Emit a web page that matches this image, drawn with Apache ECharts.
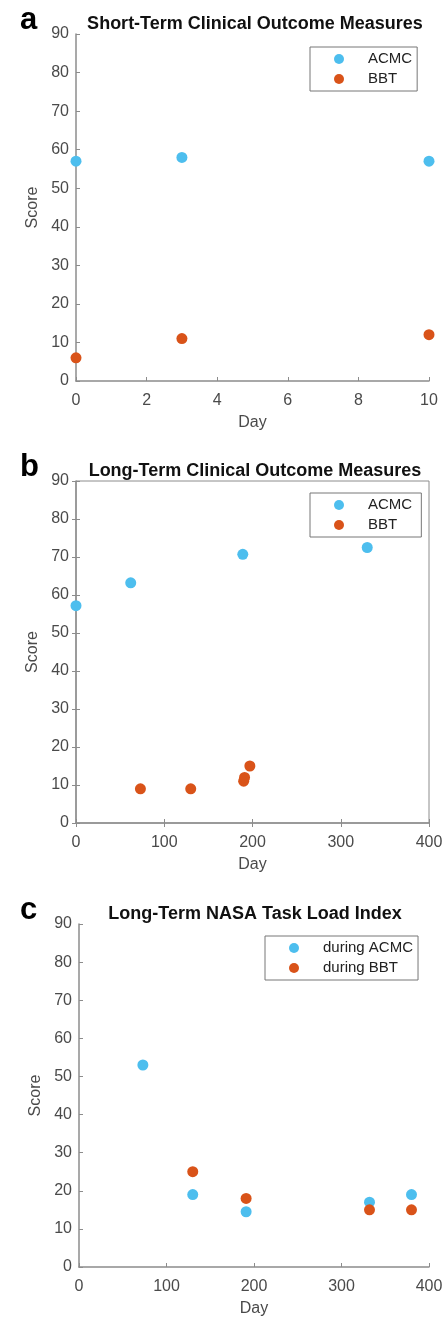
<!DOCTYPE html>
<html>
<head>
<meta charset="utf-8">
<script src="https://cdn.jsdelivr.net/npm/echarts@6/dist/echarts.min.js"></script>
<style>
  html, body { margin: 0; padding: 0; background: #fff; }
  #main { width: 448px; height: 1318px; }
</style>
</head>
<body>
<div id="main"></div>
<script>
// panel a - short term clinical outcome
var shortDays = [0, 3, 10];
var shortAcmc = [57, 58, 57];
var shortBbt = [6, 11, 12];

// panel b - long term clinical outcome
var longAcmcDays = [0, 62, 189, 330];
var longAcmc = [57.2, 63.2, 70.7, 72.5];
var longBbtDays = [73, 130, 190, 191, 197];
var longBbt = [9, 9, 11, 12, 15];

// panel c - NASA TLX
var tlxAcmcDays = [73, 130, 191, 332, 380];
var tlxAcmc = [53, 19, 14.5, 17, 19];
var tlxBbtDays = [130, 191, 332, 380];
var tlxBbt = [25, 18, 15, 15];

var panelTitles = ['Short-Term Clinical Outcome Measures', 'Long-Term Clinical Outcome Measures', 'Long-Term NASA Task Load Index'];
var panelLetters = ['a', 'b', 'c'];

var blue = '#4DBEEE', orange = '#D95319';
var axisCol = '#8c8c8c', labelCol = '#4a4a4a';
var font = 'Liberation Sans';

function pairs(xs, ys) {
    var out = [];
    for (var i = 0; i < xs.length; i++) out.push([xs[i], ys[i]]);
    return out;
}

var grids = [
    {left: 76, top: 34, right: 19, height: 347},
    {left: 76, top: 481, right: 19, height: 342, show: true, borderColor: axisCol, borderWidth: 1},
    {left: 79, top: 924, right: 19, height: 343}
];

var xMax = [10, 400, 400], xStep = [2, 100, 100];

var xAxes = [], yAxes = [];
for (var g = 0; g < 3; g++) {
    xAxes.push({
        type: 'value', gridIndex: g, min: 0, max: xMax[g], interval: xStep[g],
        name: 'Day', nameLocation: 'middle', nameGap: 34,
        nameTextStyle: {color: labelCol, fontSize: 16, fontFamily: font},
        axisLine: {show: true, onZero: false, lineStyle: {color: axisCol, width: 1.5}},
        axisTick: {show: true, inside: true, length: 4, lineStyle: {color: axisCol}},
        axisLabel: {color: labelCol, fontSize: 16, fontFamily: font, margin: 12},
        splitLine: {show: false}
    });
    yAxes.push({
        type: 'value', gridIndex: g, min: 0, max: 90, interval: 10,
        name: 'Score', nameLocation: 'middle', nameGap: 29,
        nameTextStyle: {color: labelCol, fontSize: 16, fontFamily: font},
        axisLine: {show: true, onZero: false, lineStyle: {color: axisCol, width: 1.5}},
        axisTick: {show: true, inside: true, length: 4, lineStyle: {color: axisCol}},
        axisLabel: {color: labelCol, fontSize: 16, fontFamily: font, margin: 7},
        splitLine: {show: false}
    });
}
// box ticks on panel b
xAxes.push({
    type: 'value', gridIndex: 1, position: 'top', min: 0, max: 400, interval: 100,
    axisLine: {show: false}, axisLabel: {show: false}, splitLine: {show: false},
    axisTick: {show: true, inside: true, length: 4, lineStyle: {color: axisCol}}
});
yAxes.push({
    type: 'value', gridIndex: 1, position: 'right', min: 0, max: 90, interval: 10,
    axisLine: {show: false}, axisLabel: {show: false}, splitLine: {show: false},
    axisTick: {show: true, inside: true, length: 4, lineStyle: {color: axisCol}}
});

var titles = [];
var titleTops = [10, 457, 900];
for (var t = 0; t < 3; t++) {
    titles.push({
        text: panelTitles[t], left: 250, top: titleTops[t], textAlign: 'center',
        textStyle: {color: '#111', fontSize: 18, fontWeight: 'bold', fontFamily: font}
    });
    titles.push({
        text: panelLetters[t], left: 15, top: titleTops[t] - 10,
        textStyle: {color: '#000', fontSize: 31, fontWeight: 'bold', fontFamily: font}
    });
}

function legendBox(names, left, top, width, padLeft) {
    return {
        data: names, orient: 'vertical', left: left, top: top, width: width,
        itemWidth: 10, itemHeight: 10, itemGap: 4, icon: 'circle',
        padding: [4, 5, 4, padLeft],
        borderColor: '#777', borderWidth: 1, backgroundColor: '#fff',
        textStyle: {color: '#222', fontSize: 15, lineHeight: 16, fontFamily: font, padding: [0, 0, 0, 19]}
    };
}

function dots(name, g, xs, ys, color) {
    return {
        name: name, type: 'scatter', xAxisIndex: g, yAxisIndex: g,
        data: pairs(xs, ys), symbolSize: 11, clip: false,
        itemStyle: {color: color, opacity: 1}
    };
}

var option = {
    animation: false,
    backgroundColor: '#fff',
    title: titles,
    legend: [
        legendBox(['ACMC', 'BBT'], 310, 47, 107, 24),
        legendBox(['ACMC ', 'BBT '], 310, 493, 107, 24),
        legendBox(['during ACMC', 'during BBT'], 265, 936, 152, 24)
    ],
    grid: grids,
    xAxis: xAxes,
    yAxis: yAxes,
    series: [
        dots('ACMC', 0, shortDays, shortAcmc, blue),
        dots('BBT', 0, shortDays, shortBbt, orange),
        dots('ACMC ', 1, longAcmcDays, longAcmc, blue),
        dots('BBT ', 1, longBbtDays, longBbt, orange),
        dots('during ACMC', 2, tlxAcmcDays, tlxAcmc, blue),
        dots('during BBT', 2, tlxBbtDays, tlxBbt, orange)
    ]
};

var myChart = echarts.init(document.getElementById('main'), null, {renderer: 'canvas'});
myChart.setOption(option);
</script>
</body>
</html>
